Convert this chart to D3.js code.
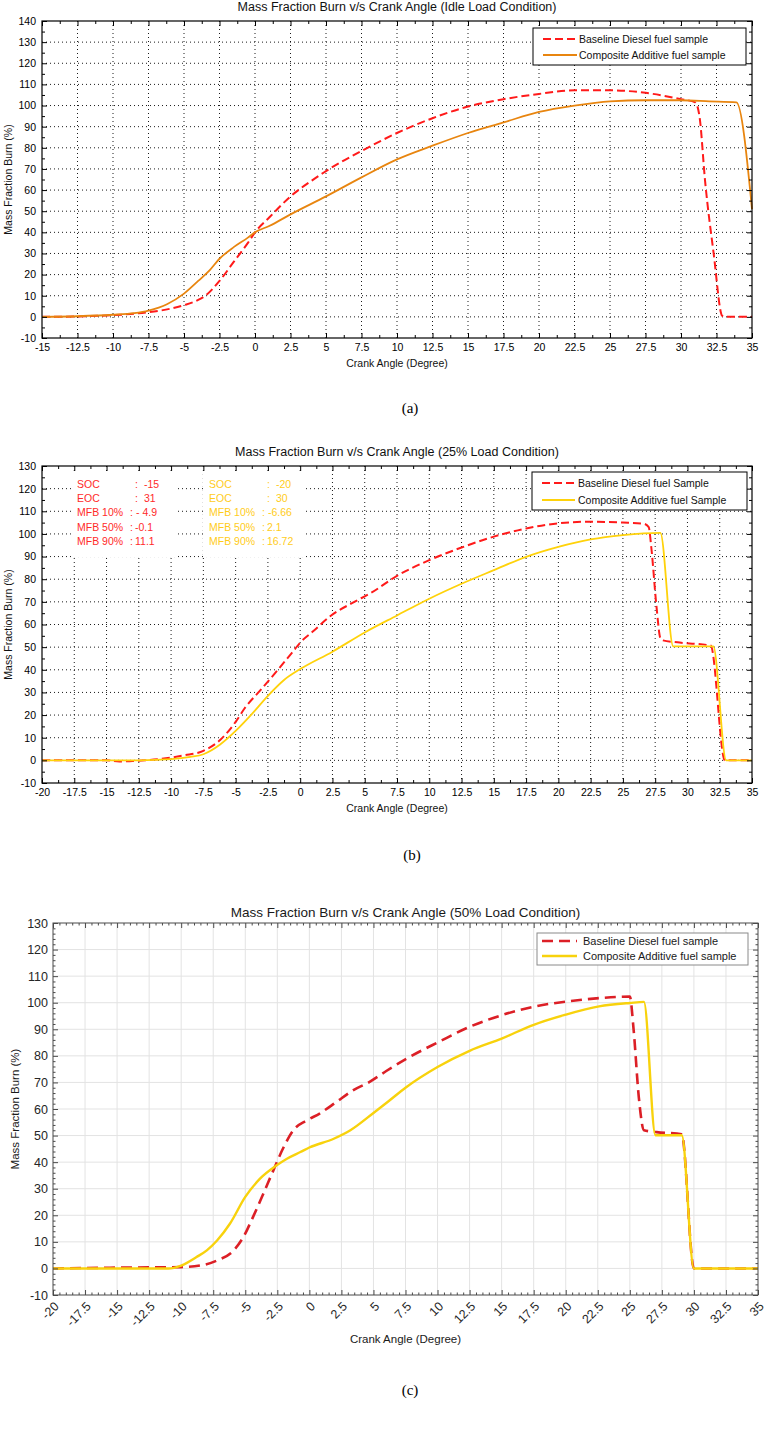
<!DOCTYPE html>
<html>
<head>
<meta charset="utf-8">
<title>Mass Fraction Burn</title>
<script src="https://d3js.org/d3.v7.min.js"></script>
<style>
  body { margin: 0; background: #fff; }
  svg { display: block; }
  text { font-family: "Liberation Sans", Arial, sans-serif; }
  .caption { font-family: "Liberation Serif", "Times New Roman", serif; }
</style>
</head>
<body>
<div id="chart"></div>
<script>
// ---- data (crank angle in degrees, MFB in %) ----
const idleBaseline = [[-15,0],[-12.5,0.2],[-10,0.8],[-8.5,1.5],[-7.5,2.2],[-6,3.8],[-5,5.5],[-4,8],[-3.5,10],
  [-2.5,17],[-1.5,26],[-0.5,35],[0,40],[1,47],[2.5,57],[4,64.5],[5,69],[6,73],[7.5,78.5],[10,87],[12.5,94],
  [15,99.5],[17.5,103],[20,105.5],[22.5,107.2],[25,107.2],[27.5,106],[30,103],[31,101.5],[31.3,95],
  [31.7,64],[32.3,30],[32.9,0.5],[33.1,0],[35,0]];
const idleComposite = [[-15,0],[-12.5,0.3],[-10,1],[-8.5,1.8],[-7.5,3],[-6.2,6],[-5,11],[-4,17],[-3.2,22],
  [-2.5,27.5],[-1.5,33],[-0.5,37.5],[0,40],[1,43],[2.5,48.5],[5,57],[7.5,66],[10,74.5],[12.5,81],[15,87],
  [17.5,92],[20,97],[22.5,100],[25,102],[27.5,102.5],[30,102.5],[32,102],[33.9,101.5],[35,51]];

const load25Baseline = [[-20,0],[-15,0],[-14,-0.5],[-13,-0.3],[-12,0],[-10,1.2],[-9,2.2],[-7.5,4.2],[-6.2,9],
  [-5,17],[-4.3,23],[-3,31.5],[-1.8,39.5],[-0.5,48.5],[0,52],[1,57],[2.4,64],[4.2,70],[5.5,74],[7.5,81.5],
  [10,88.4],[12.5,94],[15,98.8],[17.5,102.4],[20,104.7],[22.5,105.4],[25,105],[26.6,104.5],[27,103],
  [27.2,94],[27.6,68],[27.9,54],[28.1,53],[29.4,52],[31.8,50.7],[32.9,0],[35,0]];
const load25Composite = [[-20,0],[-12.5,0],[-10,0.5],[-8.5,1.5],[-7.5,2.7],[-6.2,7],[-5,13],[-3.75,20.4],
  [-2.5,28.5],[-1.25,35.5],[0,40.3],[2.5,48],[5,56.5],[7.5,64],[10,71.4],[12.5,78],[15,84],[17.5,89.9],
  [20,94.3],[22.5,97.6],[25,99.5],[27.9,100.5],[28.9,50.3],[32,50.3],[33,0],[35,0]];

const load50Baseline = [[-20,0],[-15,0.3],[-12.5,0.4],[-10,0.5],[-8.5,1.1],[-7.2,3],[-5.9,6.8],[-5.15,11.8],
  [-4.4,19.3],[-3.6,28],[-2.8,37],[-2,45.7],[-1.25,52],[-0.2,55.7],[0.8,58.3],[2.1,62.6],[3.4,67],
  [4.7,70.2],[6,74.3],[7.6,79],[10.2,85.5],[12.3,90.5],[15,95.3],[17.6,98.6],[20.2,100.5],[22.8,101.8],
  [25,102.3],[25.3,89.6],[25.7,64.5],[26.1,52],[27.1,51.3],[29.05,50.5],[30,0],[35,0]];
const load50Composite = [[-20,0],[-11,0],[-10,1.1],[-8.8,4.3],[-8,6.8],[-7.2,10.5],[-6.2,16.8],[-5,26.9],
  [-3.85,33.8],[-2.55,38.8],[-1.75,41.3],[-0.7,43.8],[0,45.5],[1.9,48.8],[3.2,52],[5,58.5],[6.2,63],
  [7.5,68],[10,75.8],[12.5,81.9],[15,86.5],[17.5,91.7],[20,95.5],[22.6,98.6],[25,99.9],[26.1,100.3],
  [27,50.1],[29.05,50.1],[30,0],[35,0]];

// tick values
const xTicksIdle = [-15,-12.5,-10,-7.5,-5,-2.5,0,2.5,5,7.5,10,12.5,15,17.5,20,22.5,25,27.5,30,32.5,35];
const xTicksLoad = [-20,-17.5,-15,-12.5,-10,-7.5,-5,-2.5,0,2.5,5,7.5,10,12.5,15,17.5,20,22.5,25,27.5,30,32.5,35];
const yTicksIdle = [-10,0,10,20,30,40,50,60,70,80,90,100,110,120,130,140];
const yTicksLoad = [-10,0,10,20,30,40,50,60,70,80,90,100,110,120,130];

// combustion stats box on the 25% load chart
const statLabels = ["SOC", "EOC", "MFB 10%", "MFB 50%", "MFB 90%"];
const statsBaseline25 = ["-15", "31", "- 4.9", "-0.1", "11.1"];
const statsComposite25 = ["-20", "30", "-6.66", "2.1", "16.72"];

const svg = d3.select("#chart").append("svg").attr("width", 769).attr("height", 1433);

const line = (x, y) => d3.line().x(d => x(d[0])).y(d => y(d[1])).curve(d3.curveMonotoneX);

function drawPanel(cfg) {
    const g = svg.append("g");
    const x = d3.scaleLinear().domain(cfg.xDomain).range([cfg.left, cfg.right]);
    const y = d3.scaleLinear().domain(cfg.yDomain).range([cfg.bottom, cfg.top]);
    const modern = cfg.modern;
    const axisColor = modern ? "#4a4a4a" : "#000";

    // grid lines
    const grid = g.append("g")
        .attr("stroke", modern ? "#e3e3e3" : "#000")
        .attr("stroke-width", modern ? 1 : 0.9)
        .attr("stroke-dasharray", modern ? null : "1,3");
    grid.selectAll(".gx").data(cfg.xTicks.slice(1, -1)).join("line")
        .attr("x1", d => x(d)).attr("x2", d => x(d))
        .attr("y1", cfg.top).attr("y2", cfg.bottom);
    grid.selectAll(".gy").data(cfg.yTicks.slice(1, -1)).join("line")
        .attr("class", "gy")
        .attr("x1", cfg.left).attr("x2", cfg.right)
        .attr("y1", d => y(d)).attr("y2", d => y(d));

    // white patches over the grid (behind text blocks)
    (cfg.masks || []).forEach(m => {
        g.append("rect").attr("x", m[0]).attr("y", m[1])
            .attr("width", m[2] - m[0]).attr("height", m[3] - m[1]).attr("fill", "#fff");
    });

    // curves
    cfg.series.forEach(s => {
        g.append("path").datum(s.data)
            .attr("fill", "none")
            .attr("stroke", s.color)
            .attr("stroke-width", s.width)
            .attr("stroke-dasharray", s.dash)
            .attr("stroke-linejoin", "round")
            .attr("d", line(x, y));
    });

    // minor ticks (no labels) on all four sides
    const minorX = [], minorY = [];
    for (let i = 0; i < cfg.xTicks.length - 1; i++) {
        const a = cfg.xTicks[i], b = cfg.xTicks[i + 1];
        for (let k = 1; k < cfg.xMinor; k++) minorX.push(a + (b - a) * k / cfg.xMinor);
    }
    for (let i = 0; i < cfg.yTicks.length - 1; i++) {
        const a = cfg.yTicks[i], b = cfg.yTicks[i + 1];
        for (let k = 1; k < cfg.yMinor; k++) minorY.push(a + (b - a) * k / cfg.yMinor);
    }
    const minorAxes = [
        [d3.axisBottom(x).tickValues(minorX), `translate(0,${cfg.bottom})`],
        [d3.axisTop(x).tickValues(minorX), `translate(0,${cfg.top})`],
        [d3.axisLeft(y).tickValues(minorY), `translate(${cfg.left},0)`],
        [d3.axisRight(y).tickValues(minorY), `translate(${cfg.right},0)`]
    ];
    minorAxes.forEach(([ax, tr]) => {
        const a = g.append("g").attr("transform", tr).attr("color", axisColor)
            .call(ax.tickSize(-cfg.minorLen).tickFormat(""));
        a.select(".domain").remove();
    });

    // major ticks, labels on bottom and left only
    const xAxis = g.append("g").attr("transform", `translate(0,${cfg.bottom})`)
        .call(d3.axisBottom(x).tickValues(cfg.xTicks).tickSize(-cfg.majorLen)
            .tickPadding(cfg.xPad).tickFormat(d => String(d)));
    const yAxis = g.append("g").attr("transform", `translate(${cfg.left},0)`)
        .call(d3.axisLeft(y).tickValues(cfg.yTicks).tickSize(-cfg.majorLen)
            .tickPadding(cfg.yPad).tickFormat(d => String(d)));
    g.append("g").attr("transform", `translate(0,${cfg.top})`)
        .call(d3.axisTop(x).tickValues(cfg.xTicks).tickSize(-cfg.majorLen).tickFormat(""));
    g.append("g").attr("transform", `translate(${cfg.right},0)`)
        .call(d3.axisRight(y).tickValues(cfg.yTicks).tickSize(-cfg.majorLen).tickFormat(""));
    g.selectAll(".domain").remove();
    g.selectAll(".tick line").attr("stroke", axisColor);

    [xAxis, yAxis].forEach(a => a.attr("font-size", cfg.tickFont)
        .selectAll("text").attr("fill", modern ? "#262626" : "#000"));

    if (modern) {
        xAxis.selectAll("text")
            .attr("x", 0).attr("y", 0).attr("dy", "0.35em")
            .attr("transform", "translate(3,9) rotate(-45)")
            .style("text-anchor", "end");
    }

    // axis box
    g.append("rect")
        .attr("x", cfg.left).attr("y", cfg.top)
        .attr("width", cfg.right - cfg.left).attr("height", cfg.bottom - cfg.top)
        .attr("fill", "none").attr("stroke", axisColor).attr("stroke-width", modern ? 1 : 1.2);

    // title and axis labels
    const labelColor = modern ? "#1a1a1a" : "#111";
    g.append("text")
        .attr("x", (cfg.left + cfg.right) / 2).attr("y", cfg.titleY)
        .attr("text-anchor", "middle").attr("font-size", cfg.titleFont).attr("fill", labelColor)
        .text(cfg.title);
    g.append("text")
        .attr("x", (cfg.left + cfg.right) / 2).attr("y", cfg.xLabelY)
        .attr("text-anchor", "middle").attr("font-size", cfg.labelFont).attr("fill", labelColor)
        .text("Crank Angle (Degree)");
    g.append("text")
        .attr("transform", `translate(${cfg.yLabelX},${(cfg.top + cfg.bottom) / 2}) rotate(-90)`)
        .attr("text-anchor", "middle").attr("dominant-baseline", "central")
        .attr("font-size", cfg.labelFont).attr("fill", labelColor)
        .text("Mass Fraction Burn (%)");

    // legend
    const L = cfg.legend;
    const lg = g.append("g");
    lg.append("rect")
        .attr("x", L.x0).attr("y", L.y0).attr("width", L.x1 - L.x0).attr("height", L.y1 - L.y0)
        .attr("fill", "#fff").attr("stroke", modern ? "#8a8a8a" : "#000").attr("stroke-width", 1);
    cfg.series.forEach((s, i) => {
        const ry = L.rows[i];
        lg.append("line")
            .attr("x1", L.lineX0).attr("x2", L.lineX1).attr("y1", ry).attr("y2", ry)
            .attr("stroke", s.color).attr("stroke-width", s.width)
            .attr("stroke-dasharray", s.dash);
        lg.append("text")
            .attr("x", L.textX).attr("y", ry).attr("dy", "0.35em")
            .attr("font-size", L.font).attr("fill", labelColor)
            .text(s.name);
    });

    // caption under the chart
    svg.append("text").attr("class", "caption")
        .attr("x", cfg.captionX).attr("y", cfg.captionY)
        .attr("text-anchor", "middle").attr("font-size", 15).attr("fill", "#000")
        .text(cfg.caption);

    return { x, y, g };
}

const RED = "#ff1a1a";
const ORANGE = "#e8850f";
const YELLOW = "#ffd20a";

// (a) idle load
drawPanel({
    modern: false,
    left: 42, right: 752, top: 21, bottom: 338,
    xDomain: [-15, 35], yDomain: [-10, 140],
    xTicks: xTicksIdle, yTicks: yTicksIdle, xMinor: 2, yMinor: 2,
    majorLen: 5, minorLen: 3, xPad: 6, yPad: 6, tickFont: 10.5,
    title: "Mass Fraction Burn v/s Crank Angle (Idle Load Condition)",
    titleY: 11, titleFont: 12.5, xLabelY: 367, yLabelX: 8, labelFont: 10.5,
    series: [
        { name: "Baseline Diesel fuel sample", data: idleBaseline, color: RED, width: 2, dash: "8,4" },
        { name: "Composite Additive fuel sample", data: idleComposite, color: ORANGE, width: 1.8, dash: null }
    ],
    legend: { x0: 533, x1: 746, y0: 28, y1: 65, rows: [39, 55], lineX0: 543, lineX1: 577, textX: 579, font: 10.5 },
    caption: "(a)", captionX: 410, captionY: 413
});

// (b) 25% load
const pb = drawPanel({
    modern: false,
    left: 42, right: 752, top: 466, bottom: 783,
    xDomain: [-20, 35], yDomain: [-10, 130],
    xTicks: xTicksLoad, yTicks: yTicksLoad, xMinor: 2, yMinor: 2,
    majorLen: 5, minorLen: 3, xPad: 6, yPad: 6, tickFont: 10.5,
    title: "Mass Fraction Burn v/s Crank Angle (25% Load Condition)",
    titleY: 456, titleFont: 12.5, xLabelY: 812, yLabelX: 8, labelFont: 10.5,
    masks: [[72, 472, 175, 557], [203, 472, 303, 557]],
    series: [
        { name: "Baseline Diesel fuel Sample", data: load25Baseline, color: RED, width: 2, dash: "8,4" },
        { name: "Composite Additive fuel Sample", data: load25Composite, color: YELLOW, width: 1.8, dash: null }
    ],
    legend: { x0: 532, x1: 747, y0: 472, y1: 510, rows: [483, 500], lineX0: 542, lineX1: 575, textX: 578, font: 10.5 },
    caption: "(b)", captionX: 412, captionY: 860
});

// stats block inside (b)
const statRows = [484, 498, 512, 527, 541];
const colonOffsets = [58, 58, 53, 53, 53];
const valueOffsets = [67, 67, 59, 58, 58];
[[77, statsBaseline25, "#ff2a2a"], [209, statsComposite25, "#ffcc1a"]].forEach(([x0, vals, col]) => {
    const sg = pb.g.append("g").attr("font-size", 10.5).attr("fill", col);
    statLabels.forEach((lab, i) => {
        sg.append("text").attr("x", x0).attr("y", statRows[i]).attr("dy", "0.35em").text(lab);
        sg.append("text").attr("x", x0 + colonOffsets[i]).attr("y", statRows[i]).attr("dy", "0.35em").text(":");
        sg.append("text").attr("x", x0 + valueOffsets[i]).attr("y", statRows[i]).attr("dy", "0.35em").text(vals[i]);
    });
});

// (c) 50% load (newer plot style)
drawPanel({
    modern: true,
    left: 53, right: 758, top: 923, bottom: 1295,
    xDomain: [-20, 35], yDomain: [-10, 130],
    xTicks: xTicksLoad, yTicks: yTicksLoad, xMinor: 5, yMinor: 5,
    majorLen: 5, minorLen: 2.5, xPad: 6, yPad: 5, tickFont: 12.5,
    title: "Mass Fraction Burn v/s Crank Angle (50% Load Condition)",
    titleY: 917, titleFont: 13.5, xLabelY: 1343, yLabelX: 15, labelFont: 11.5,
    series: [
        { name: "Baseline Diesel fuel sample", data: load50Baseline, color: "#dc1f26", width: 2.6, dash: "11,6" },
        { name: "Composite Additive fuel sample", data: load50Composite, color: "#f8d20c", width: 2.4, dash: null }
    ],
    legend: { x0: 537, x1: 748, y0: 933, y1: 965, rows: [941, 956], lineX0: 542, lineX1: 577, textX: 583, font: 11 },
    caption: "(c)", captionX: 410, captionY: 1395
});
</script>
</body>
</html>
